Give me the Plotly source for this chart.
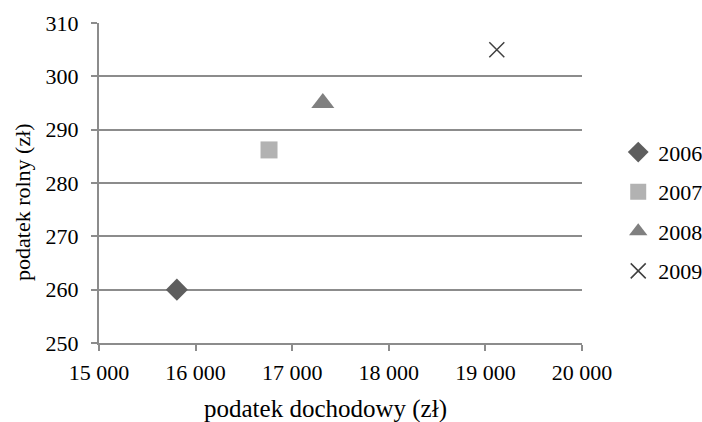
import plotly.graph_objects as go

years = ["2006", "2007", "2008", "2009"]
dochodowy = [15806, 16760, 17317, 19118]
rolny = [260, 286.2, 295, 305]
symbols = ["diamond", "square", "triangle-up", "x-thin"]
colors = ["#5e5e5e", "#b2b2b2", "#808080", "#404040"]

x_ticks = [15000, 16000, 17000, 18000, 19000, 20000]
x_ticktext = ["15 000", "16 000", "17 000", "18 000", "19 000", "20 000"]
y_ticks = [250, 260, 270, 280, 290, 300, 310]
x_title = "podatek dochodowy (zł)"
y_title = "podatek rolny (zł)"

FONT = "Liberation Serif"

fig = go.Figure()
for i, yr in enumerate(years):
    sym = symbols[i]
    marker = dict(symbol=sym, color=colors[i], size=17)
    if sym == "triangle-up":
        marker["size"] = 20
    if sym == "x-thin":
        marker["line"] = dict(color=colors[i], width=1.5)
        marker["size"] = 15
    fig.add_trace(go.Scatter(
        x=[dochodowy[i]], y=[rolny[i]], mode="markers", name=yr,
        marker=marker, legendgroup=yr,
    ))

fig.add_annotation(text=x_title, xref="paper", yref="paper", x=(325 - 99) / 483,
                   y=(343 - 409) / 320, xanchor="center", yanchor="middle",
                   showarrow=False, font=dict(family=FONT, size=25, color="black"))
fig.add_annotation(text=y_title, xref="paper", yref="paper", x=(22 - 99) / 483,
                   y=(343 - 202) / 320, xanchor="center", yanchor="middle",
                   textangle=-90, showarrow=False,
                   font=dict(family=FONT, size=22, color="black"))

fig.update_layout(
    width=702, height=422,
    margin=dict(l=99, r=120, t=23, b=79, autoexpand=False),
    plot_bgcolor="white", paper_bgcolor="white",
    showlegend=True,
    legend=dict(x=1.075, y=0.41, xanchor="left", yanchor="middle",
                font=dict(family=FONT, size=22, color="black"),
                tracegroupgap=8, itemwidth=30, borderwidth=0),
    xaxis=dict(range=[15000, 20000], tickvals=x_ticks, ticktext=x_ticktext,
               showgrid=False, showline=True, linecolor="#8c8c8c", linewidth=2,
               ticks="outside", ticklen=6, tickwidth=1.5, tickcolor="#8c8c8c",
               zeroline=False, automargin=False, ticklabelstandoff=3,
               tickfont=dict(family=FONT, size=22, color="black")),
    yaxis=dict(range=[250, 310], tickvals=y_ticks,
               showgrid=True, gridcolor="#8c8c8c", gridwidth=2,
               showline=True, linecolor="#8c8c8c", linewidth=2,
               ticks="outside", ticklen=6, tickwidth=1.5, tickcolor="#8c8c8c",
               zeroline=False, automargin=False, ticklabelstandoff=8,
               tickfont=dict(family=FONT, size=22, color="black")),
)

fig.write_html("out.html")
